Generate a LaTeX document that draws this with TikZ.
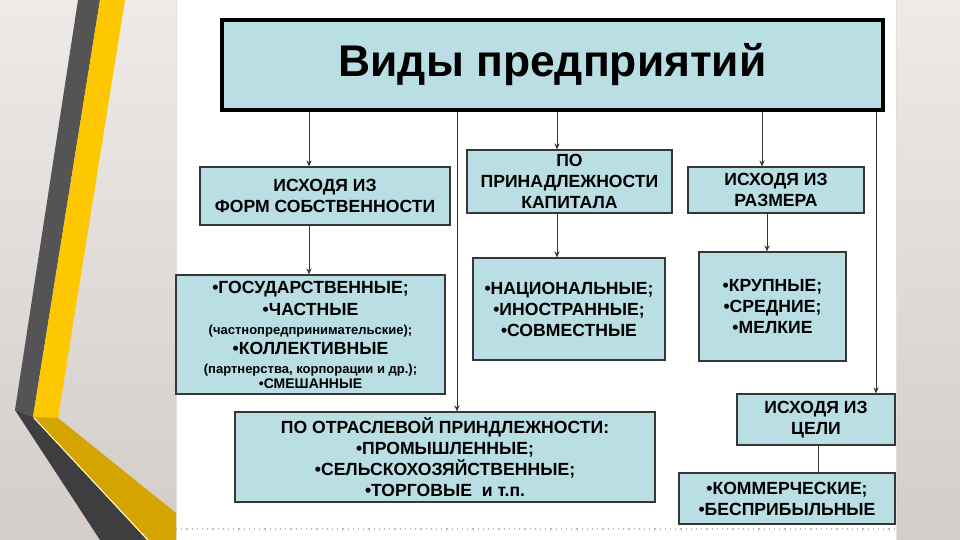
\documentclass[tikz,border=0pt]{standalone}
\usepackage{fontspec}
\setmainfont{Liberation Sans}
\usetikzlibrary{arrows.meta}

\definecolor{boxfill}{RGB}{185,222,228}
\definecolor{linegray}{RGB}{55,55,55}
\definecolor{bgtop}{RGB}{237,234,231}
\definecolor{bgbottom}{RGB}{212,205,202}
\definecolor{stripedark}{RGB}{84,84,86}
\definecolor{stripedarklow}{RGB}{62,62,64}
\definecolor{stripeyellow}{RGB}{253,200,0}
\definecolor{stripegold}{RGB}{212,164,0}

\newcommand{\smalltxt}[1]{{\fontsize{6.5}{8}\selectfont #1}}

\tikzset{
  kindbox/.style={draw=linegray, line width=0.6pt, fill=boxfill, inner sep=0pt,
    align=center, font=\bfseries\fontsize{8.8}{10.5}\selectfont},
  titlebox/.style={draw=black, line width=1.6pt, fill=boxfill, inner sep=0pt,
    font=\bfseries\fontsize{22.2}{26}\selectfont},
  arr/.style={draw=linegray, line width=0.5pt, -{Stealth[length=3pt,width=2.6pt]}},
  link/.style={draw=linegray, line width=0.5pt}
}

\begin{document}
\begin{tikzpicture}[x=0.5pt, y=-0.5pt]
    \useasboundingbox (0,0) rectangle (960,540);
    % Fondo
    \shade[top color=bgtop, bottom color=bgbottom] (0,0) rectangle (960,540);
    \fill[white] (176,0) rectangle (896,540);
    \draw[black!12, line width=0.4pt] (176,0) -- (176,540);
    \draw[black!12, line width=0.4pt] (896,0) -- (896,540);
    \draw[black!25, line width=0.6pt, dotted] (176,529) -- (896,529);
    % Franjas decorativas
    \fill[stripedark] (78,0) -- (100,0) -- (33,417) -- (15,410) -- cycle;
    \fill[stripedarklow] (15,410) -- (33,417) -- (147,540) -- (100,540) -- cycle;
    \fill[stripeyellow] (100,0) -- (125,0) -- (58,418) -- (33,417) -- cycle;
    \fill[stripegold] (33,417) -- (58,418) -- (176,513) -- (176,540) -- (147,540) -- cycle;
    \draw[white!85!yellow, line width=0.5pt] (34,418) -- (148,540);

    % Titulo
    \node[titlebox, minimum width=330.5pt, minimum height=45pt] (title) at (552.5,65) {Виды предприятий};

    % Criterios
    \node[kindbox, minimum width=125pt, minimum height=29pt] (own) at (325,196)
        {ИСХОДЯ ИЗ\\ФОРМ СОБСТВЕННОСТИ};
    \node[kindbox, minimum width=102.5pt, minimum height=31.5pt] (cap) at (569.5,181.5)
        {ПО\\ПРИНАДЛЕЖНОСТИ\\КАПИТАЛА};
    \node[kindbox, minimum width=88pt, minimum height=23pt] (size) at (776,190)
        {ИСХОДЯ ИЗ\\РАЗМЕРА};
    \node[kindbox, minimum width=79pt, minimum height=25.5pt] (goal) at (816,419.5)
        {ИСХОДЯ ИЗ\\ЦЕЛИ};

    % Listas
    \node[kindbox, minimum width=134.5pt, minimum height=59.5pt] (ownlist) at (310.5,334.5)
        {•ГОСУДАРСТВЕННЫЕ;\\[0.5pt]
         •ЧАСТНЫЕ\\[-1pt]
         \smalltxt{(частнопредпринимательские);}\\[-0.5pt]
         •КОЛЛЕКТИВНЫЕ\\[-1pt]
         \smalltxt{(партнерства, корпорации и др.);}\\[-3pt]
         {\fontsize{7}{8}\selectfont •СМЕШАННЫЕ}};
    \node[kindbox, minimum width=96pt, minimum height=51pt] (caplist) at (569,309)
        {•НАЦИОНАЛЬНЫЕ;\\•ИНОСТРАННЫЕ;\\•СОВМЕСТНЫЕ};
    \node[kindbox, minimum width=73.5pt, minimum height=54.5pt] (sizelist) at (772.5,306.5)
        {•КРУПНЫЕ;\\•СРЕДНИЕ;\\•МЕЛКИЕ};
    \node[kindbox, minimum width=210pt, minimum height=45pt] (branch) at (445,457)
        {ПО ОТРАСЛЕВОЙ ПРИНДЛЕЖНОСТИ:\\•ПРОМЫШЛЕННЫЕ;\\•СЕЛЬСКОХОЗЯЙСТВЕННЫЕ;\\•ТОРГОВЫЕ\ \ и т.п.};
    \node[kindbox, minimum width=108pt, minimum height=25.5pt] (goallist) at (787,498.5)
        {•КОММЕРЧЕСКИЕ;\\•БЕСПРИБЫЛЬНЫЕ};

    % Conectores
    \coordinate (xown) at (309,0);
    \coordinate (xcap) at (557,0);
    \coordinate (xsize) at (762,0);
    \coordinate (xsizelist) at (767,0);
    \coordinate (xbranch) at (457,0);
    \coordinate (xgoal) at (876,0);
    \coordinate (xgoallist) at (818,0);
    \draw[arr] (title.south -| xown) -- (own.north -| xown);
    \draw[arr] (own.south -| xown) -- (ownlist.north -| xown);
    \draw[arr] (title.south -| xcap) -- (cap.north -| xcap);
    \draw[arr] (cap.south -| xcap) -- (caplist.north -| xcap);
    \draw[arr] (title.south -| xsize) -- (size.north -| xsize);
    \draw[arr] (size.south -| xsizelist) -- (sizelist.north -| xsizelist);
    \draw[arr] (title.south -| xbranch) -- (branch.north -| xbranch);
    \draw[arr] (title.south -| xgoal) -- (goal.north -| xgoal);
    \draw[link] (goal.south -| xgoallist) -- (goallist.north -| xgoallist);
\end{tikzpicture}
\end{document}
